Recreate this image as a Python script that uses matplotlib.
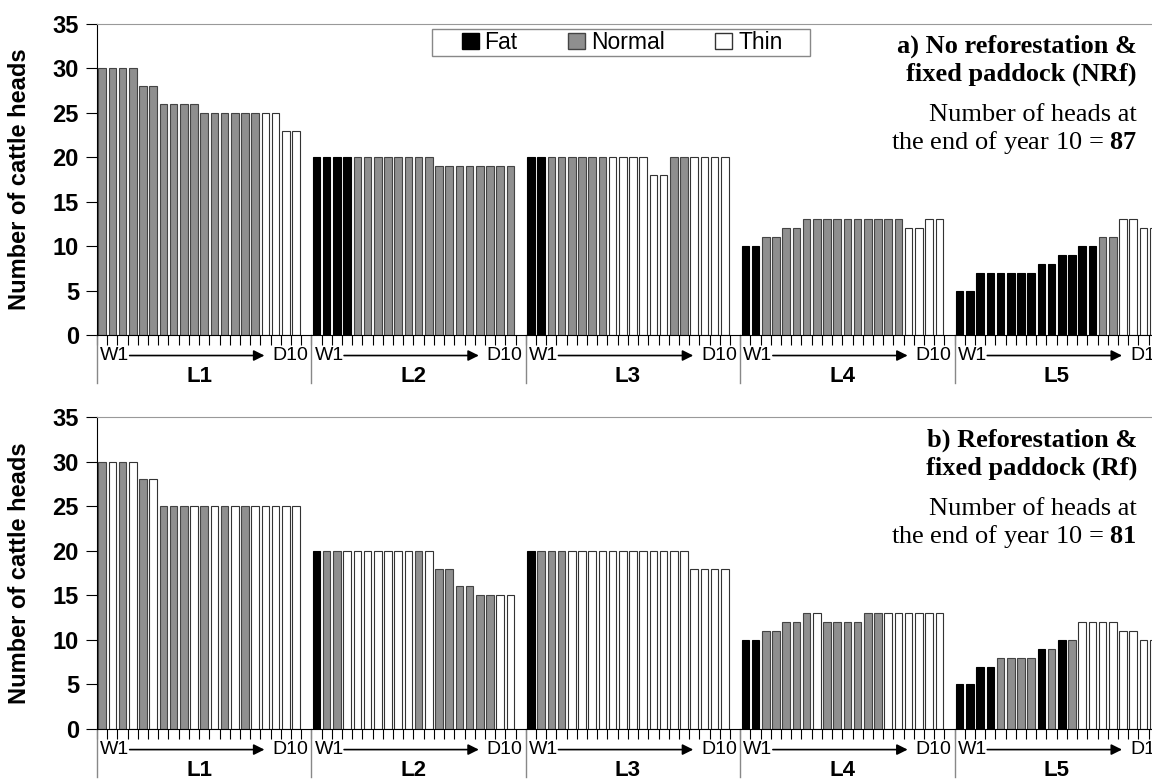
import numpy as np
import matplotlib
matplotlib.use("Agg")
import matplotlib.pyplot as plt
import matplotlib.transforms as mtransforms
from matplotlib.patches import Patch, Rectangle

plt.rcParams['font.family'] = ['Liberation Sans', 'DejaVu Sans']
plt.rcParams['mathtext.fontset'] = 'custom'
plt.rcParams['mathtext.rm'] = 'Liberation Serif'
plt.rcParams['mathtext.bf'] = 'Liberation Serif:bold'

# data: heads per season (W1, D1, W2, D2 ... W10, D10) for each land unit
groups = ["L1", "L2", "L3", "L4", "L5"]

# a) No reforestation & fixed paddock (NRf)
nrf_vals = [
    [30, 30, 30, 30, 28, 28, 26, 26, 26, 26, 25, 25, 25, 25, 25, 25, 25, 25, 23, 23],
    [20, 20, 20, 20, 20, 20, 20, 20, 20, 20, 20, 20, 19, 19, 19, 19, 19, 19, 19, 19],
    [20, 20, 20, 20, 20, 20, 20, 20, 20, 20, 20, 20, 18, 18, 20, 20, 20, 20, 20, 20],
    [10, 10, 11, 11, 12, 12, 13, 13, 13, 13, 13, 13, 13, 13, 13, 13, 12, 12, 13, 13],
    [5, 5, 7, 7, 7, 7, 7, 7, 8, 8, 9, 9, 10, 10, 11, 11, 13, 13, 12, 12],
]
# body condition: F = fat, N = normal, T = thin
nrf_cond = [
    "NNNNNNNNNNNNNNNNTTTT",
    "FFFFNNNNNNNNNNNNNNNN",
    "FFNNNNNNTTTTTTNNTTTT",
    "FFNNNNNNNNNNNNNNTTTT",
    "FFFFFFFFFFFFFFNNTTTT",
]
nrf_total = 87

# b) Reforestation & fixed paddock (Rf)
rf_vals = [
    [30, 30, 30, 30, 28, 28, 25, 25, 25, 25, 25, 25, 25, 25, 25, 25, 25, 25, 25, 25],
    [20, 20, 20, 20, 20, 20, 20, 20, 20, 20, 20, 20, 18, 18, 16, 16, 15, 15, 15, 15],
    [20, 20, 20, 20, 20, 20, 20, 20, 20, 20, 20, 20, 20, 20, 20, 20, 18, 18, 18, 18],
    [10, 10, 11, 11, 12, 12, 13, 13, 12, 12, 12, 12, 13, 13, 13, 13, 13, 13, 13, 13],
    [5, 5, 7, 7, 8, 8, 8, 8, 9, 9, 10, 10, 12, 12, 12, 12, 11, 11, 10, 10],
]
rf_cond = [
    "NTNTNTNNNTNTNTNTTTTT",
    "FNNTTTTTTTNTNNNNNNTT",
    "FNNNTTTTTTTTTTTTTTTT",
    "FFNNNNNTNNNNNNTTTTTT",
    "FFFFNNNNFNFNTTTTTTTT",
]
rf_total = 81

FILL = {"F": "black", "N": "#8f8f8f", "T": "white"}
EDGE = {"F": "black", "N": "#444444", "T": "#333333"}
SLOTS = 21  # 20 seasons + one empty slot per land unit

W, H = 1152, 782
fig = plt.figure(figsize=(W / 100, H / 100), dpi=100)


def draw_panel(ax, vals, cond, heading, total, ytop):
    for g, (v, c) in enumerate(zip(vals, cond)):
        x = g * SLOTS + np.arange(len(v)) + 0.5
        ax.bar(x, v, width=0.74, color=[FILL[k] for k in c],
               edgecolor=[EDGE[k] for k in c], linewidth=0.8)

    ax.set_xlim(0, SLOTS * len(groups))
    ax.set_ylim(0, 35)
    ax.set_yticks(range(0, 36, 5))
    ax.set_xticks(np.arange(0, SLOTS * len(groups) + 1))
    ax.set_xticklabels([])
    ax.tick_params(axis='x', direction='out', length=7, width=0.8)
    ax.tick_params(axis='y', direction='out', length=8, width=0.8,
                   labelsize=17, pad=5)
    for lab in ax.get_yticklabels():
        lab.set_fontweight('bold')
    ax.spines['right'].set_visible(False)
    ax.spines['top'].set_color('#999999')
    ax.set_ylabel("Number of cattle heads", fontsize=17, fontweight='bold')
    ax.yaxis.set_label_coords(-0.0612, 0.5)

    trans = mtransforms.blended_transform_factory(ax.transData, ax.transAxes)
    for b in range(0, SLOTS * len(groups) + 1, SLOTS):
        ax.plot([b, b], [0, -0.155], transform=trans, color='#888888',
                lw=1, clip_on=False)
    for g, name in enumerate(groups):
        x0 = g * SLOTS
        ax.text(x0 + 0.3, -0.066, "W1", transform=trans, ha='left',
                va='center', fontsize=14)
        ax.text(x0 + 20.7, -0.066, "D10", transform=trans, ha='right',
                va='center', fontsize=14)
        ax.annotate("", xy=(x0 + 16.4, -0.066), xytext=(x0 + 3.2, -0.066),
                    xycoords=trans, textcoords=trans,
                    arrowprops=dict(arrowstyle='-|>', color='black', lw=1.2,
                                    mutation_scale=16, shrinkA=0, shrinkB=0))
        ax.text(x0 + 10, -0.133, name, transform=trans, ha='center',
                va='center', fontsize=16, fontweight='bold')

    xr = 1137 / W
    lines = [(heading[0], 'bold', 0), (heading[1], 'bold', 28),
             ("Number of heads at", 'normal', 69)]
    for txt, wt, dy in lines:
        fig.text(xr, 1 - (ytop + dy) / H, txt, ha='right', va='center',
                 family='Liberation Serif', fontweight=wt, fontsize=19)
    fig.text(xr, 1 - (ytop + 97) / H,
             "the end of year 10 = $\\mathbf{%d}$" % total, ha='right',
             va='center', family='Liberation Serif', fontsize=19)


ax_a = fig.add_axes([97 / W, 1 - 335 / H, 1072 / W, 311 / H])
ax_b = fig.add_axes([97 / W, 1 - 729 / H, 1072 / W, 312 / H])

draw_panel(ax_a, nrf_vals, nrf_cond,
           ("a) No reforestation &", "fixed paddock (NRf)"), nrf_total, 46)
draw_panel(ax_b, rf_vals, rf_cond,
           ("b) Reforestation &", "fixed paddock (Rf)"), rf_total, 440)

# legend with a plain box
handles = [Patch(facecolor=FILL[k], edgecolor=EDGE[k], label=lab)
           for k, lab in zip("FNT", ["Fat", "Normal", "Thin"])]
fig.legend(handles=handles, loc='center', ncol=3, frameon=False,
           bbox_to_anchor=(622 / W, 1 - 42.5 / H), fontsize=16.5,
           handlelength=0.75, handleheight=0.75, handletextpad=0.25,
           columnspacing=2.2)
fig.add_artist(Rectangle((432 / W, 1 - 56 / H), 378 / W, 27 / H,
                         transform=fig.transFigure, fill=False,
                         edgecolor='#888888', lw=1))

fig.savefig("out.png", dpi=100)
